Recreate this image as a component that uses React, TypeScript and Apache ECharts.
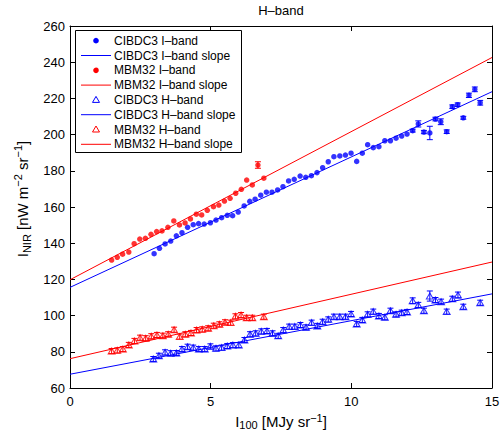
import React, { useEffect, useRef } from "react";
import * as echarts from "echarts";

const FONT = "'Liberation Sans', Arial, Helvetica, sans-serif";
const BLUE = "#0000ff";
const RED = "#ff0000";

// CIBDC3 I-band
const cibI_x = [2.99,3.18,3.38,3.58,3.78,3.98,4.18,4.38,4.57,4.77,4.99,5.19,5.39,5.59,5.78,5.98,6.19,6.39,6.58,6.78,6.98,7.18,7.38,7.57,7.77,7.97,8.18,8.38,8.58,8.78,8.98,9.18,9.38,9.59,9.79,9.99,10.19,10.39,10.58,10.78,10.98,11.19,11.39,11.59,11.79,11.98,12.18,12.38,12.58,12.79,12.99,13.18,13.39,13.59,13.78,13.98,14.18,14.39,14.58];
const cibI_y = [134.2,137.2,139.6,141.2,144.1,145.8,148.8,150.2,150.8,150.6,151.3,152.8,154.1,155.4,155.2,157.2,160.6,163.1,164.3,166.5,168.2,168.2,169.4,171.2,174.4,175.3,177.1,176.4,177.3,179.0,181.7,185.0,187.8,188.2,188.7,189.7,185.2,189.7,194.4,192.8,193.3,196.6,196.6,198.0,199.2,200.3,202.2,205.9,201.4,200.9,208.6,207.1,201.6,215.4,216.5,209.3,221.7,225.0,217.6];
const cibI_err = [0,0,0,0,0,0,0,0,0,0,0,0,0,0,0,0,0,0,0,0,0,0,0,0,0,0,0,0,0,0,0,0,0,0,0,0,0,0,0,0,0,0,0,0,0,0,0.8,1.7,0.9,3.7,1.0,1.6,1.0,1.0,1.0,0.8,1.2,1.3,1.3];

// MBM32 I-band
const mbmI_x = [1.48,1.68,1.87,2.09,2.28,2.48,2.68,2.88,3.08,3.27,3.48,3.69,3.89,4.09,4.28,4.49,4.68,4.88,5.10,5.29,5.49,5.69,5.89,6.09,6.28,6.48,6.68,6.89];
const mbmI_y = [130.7,132.2,133.9,135.1,139.7,142.3,142.7,144.9,146.4,146.8,148.8,152.3,150.1,151.2,153.4,156.0,155.6,158.2,160.2,161.1,163.3,164.8,167.6,169.8,174.9,172.2,183.2,175.9];
const mbmI_err = [0,0,0,0,0,0,0,0,0,0,0,0,0,0,0,0,0,0,0,0,0,0,0,0,0,0,1.8,0];

// CIBDC3 H-band
const cibH_x = [2.96,3.16,3.38,3.58,3.78,3.98,4.18,4.38,4.58,4.79,4.99,5.19,5.39,5.59,5.79,6.00,6.20,6.40,6.60,6.80,7.00,7.20,7.40,7.58,7.79,7.99,8.19,8.39,8.59,8.79,8.98,9.18,9.38,9.59,9.79,9.99,10.19,10.39,10.58,10.78,10.98,11.19,11.39,11.59,11.79,11.98,12.18,12.38,12.58,12.79,12.99,13.19,13.39,13.59,13.79,13.98,14.58];
const cibH_y = [76.0,77.8,79.7,79.2,79.3,81.5,82.8,82.3,81.5,81.5,83.0,81.9,82.3,83.2,83.7,83.7,86.5,89.7,90.2,91.3,91.5,90.2,88.8,92.0,93.9,93.9,94.8,93.5,96.1,94.3,96.6,97.9,99.4,99.4,99.4,100.9,95.4,97.6,100.7,102.2,99.8,99.1,102.7,100.7,101.6,102.0,108.2,105.9,102.7,110.8,108.6,107.7,102.2,109.3,111.4,104.9,107.1];
const cibH_err = [1.4,1.4,1.4,1.4,1.4,1.4,1.4,1.4,1.4,1.4,1.4,1.4,1.4,1.4,1.4,1.4,1.4,1.4,1.4,1.4,1.4,1.4,1.4,1.4,1.4,1.4,1.4,1.4,1.4,1.4,1.4,1.4,1.4,1.4,1.4,1.4,1.4,1.4,1.4,1.4,1.4,1.4,1.4,1.4,1.4,1.4,1.6,1.4,1.4,2.8,1.4,1.4,1.4,1.4,1.6,1.4,1.4];

// MBM32 H-band
const mbmH_x = [1.48,1.68,1.88,2.09,2.29,2.49,2.69,2.89,3.09,3.30,3.49,3.70,3.90,4.10,4.30,4.50,4.70,4.91,5.11,5.31,5.51,5.71,5.88,6.08,6.28,6.48,6.89];
const mbmH_y = [80.4,80.8,81.5,83.8,86.0,87.8,87.5,88.6,89.3,88.9,89.7,92.2,88.4,89.7,90.4,92.0,92.4,93.0,94.4,95.2,96.3,96.1,99.6,100.3,98.8,98.8,99.4];
const mbmH_err = [1.4,1.4,1.4,1.4,1.4,1.4,1.4,1.4,1.4,1.4,1.4,1.4,1.4,1.4,1.4,1.4,1.4,1.4,1.4,1.4,1.4,1.4,1.4,1.4,1.4,1.4,1.4];

// slope lines (values at x = 0 and x = 15)
const slopeX = [0, 15];
const cibI_slope = [115.6, 223.7];
const mbmI_slope = [119.8, 242.6];
const cibH_slope = [67.6, 112.0];
const mbmH_slope = [76.2, 129.6];

const legendLabels = [
  "CIBDC3 I–band",
  "CIBDC3 I–band slope",
  "MBM32 I–band",
  "MBM32 I–band slope",
  "CIBDC3 H–band",
  "CIBDC3 H–band slope",
  "MBM32 H–band",
  "MBM32 H–band slope",
];
const legendKinds = ["dot", "line", "dot", "line", "tri", "line", "tri", "line"];
const legendColors = [BLUE, BLUE, RED, RED, BLUE, BLUE, RED, RED];

const zip = (xs: number[], ys: number[]) => xs.map((x, i) => [x, ys[i]]);

function errSeries(xs: number[], ys: number[], errs: number[], color: string) {
  return {
    type: "custom",
    silent: true,
    xAxisIndex: 0,
    yAxisIndex: 0,
    data: xs.map((x, i) => [x, ys[i], errs[i]]),
    encode: { x: 0, y: 1 },
    z: 2,
    renderItem: (_p: any, api: any) => {
      const x = api.value(0);
      const y = api.value(1);
      const e = api.value(2);
      if (!e) return { type: "group", children: [] };
      const t = api.coord([x, y + e]);
      const b = api.coord([x, y - e]);
      const w = 3;
      const st = { stroke: color, lineWidth: 1 };
      return {
        type: "group",
        children: [
          { type: "line", shape: { x1: t[0], y1: t[1], x2: b[0], y2: b[1] }, style: st },
          { type: "line", shape: { x1: t[0] - w, y1: t[1], x2: t[0] + w, y2: t[1] }, style: st },
          { type: "line", shape: { x1: b[0] - w, y1: b[1], x2: b[0] + w, y2: b[1] }, style: st },
        ],
      };
    },
  };
}

function buildLegend() {
  const els: any[] = [];
  const bx = 75.5, by = 30.5, bw = 166, bh = 122;
  els.push({
    type: "rect",
    shape: { x: bx, y: by, width: bw, height: bh },
    style: { fill: "#fff", stroke: "#000", lineWidth: 1 },
    z: 100,
  });
  const y0 = 40.7, dy = 14.8, mx = 96;
  legendLabels.forEach((lab, i) => {
    const y = y0 + i * dy;
    const c = legendColors[i];
    const k = legendKinds[i];
    if (k === "dot") {
      els.push({ type: "circle", shape: { cx: mx, cy: y, r: 2.8 }, style: { fill: c }, z: 101 });
    } else if (k === "tri") {
      els.push({
        type: "polygon",
        shape: { points: [[mx, y - 3.5], [mx - 3.5, y + 2.5], [mx + 3.5, y + 2.5]] },
        style: { fill: "none", stroke: c, lineWidth: 1 },
        z: 101,
      });
    } else {
      els.push({
        type: "line",
        shape: { x1: 81, y1: y, x2: 111, y2: y },
        style: { stroke: c, lineWidth: 1 },
        z: 101,
      });
    }
    els.push({
      type: "text",
      x: 114,
      y: y,
      style: {
        text: lab,
        fontSize: 12,
        fontFamily: FONT,
        fill: "#000",
        verticalAlign: "middle",
        align: "left",
      },
      z: 101,
    });
  });
  return els;
}

export default function App() {
  const ref = useRef<HTMLDivElement>(null);
  useEffect(() => {
    if (!ref.current) return;
    const chart = echarts.init(ref.current, null, { renderer: "svg" });
    const axisCommon = {
      axisLine: { show: true, onZero: false, lineStyle: { color: "#000", width: 1 } },
      axisTick: { show: true, inside: true, length: 5, lineStyle: { color: "#000" } },
      splitLine: { show: false },
    };
    const labelStyle = { color: "#000", fontSize: 13, fontFamily: FONT };
    const richX = {
      i: { fontSize: 15, fontFamily: FONT, color: "#000", lineHeight: 18 },
      sub: { fontSize: 11, fontFamily: FONT, color: "#000", lineHeight: 11, verticalAlign: "bottom" },
      sup: { fontSize: 11, fontFamily: FONT, color: "#000", lineHeight: 9, verticalAlign: "top" },
    };
    const richY = {
      i: { fontSize: 15, fontFamily: FONT, color: "#000", lineHeight: 20 },
      sub: { fontSize: 11, fontFamily: FONT, color: "#000", lineHeight: 11, verticalAlign: "bottom" },
      sup: { fontSize: 11, fontFamily: FONT, color: "#000", lineHeight: 11, verticalAlign: "top" },
    };
    const option: any = {
      animation: false,
      backgroundColor: "#fff",
      title: {
        text: "H–band",
        left: 281,
        top: 4,
        padding: 0,
        textAlign: "center",
        textStyle: { fontSize: 13, fontWeight: "normal", color: "#000", fontFamily: FONT },
      },
      grid: { left: 70, right: 10, top: 26, bottom: 42, containLabel: false, outerBoundsMode: "none" },
      xAxis: [
        {
          type: "value",
          min: 0,
          max: 15,
          interval: 5,
          position: "bottom",
          ...axisCommon,
          axisLabel: { ...labelStyle, margin: 7 },
          name: "{i|I}{sub|100}{i| [MJy sr}{sup|−1}{i|]}",
          nameLocation: "middle",
          nameGap: 15,
          nameTextStyle: { rich: richX },
        },
        {
          type: "value",
          min: 0,
          max: 15,
          interval: 5,
          position: "top",
          ...axisCommon,
          axisLabel: { show: false },
        },
      ],
      yAxis: [
        {
          type: "value",
          min: 60,
          max: 260,
          interval: 20,
          position: "left",
          ...axisCommon,
          axisLabel: { ...labelStyle, margin: 5 },
          name: "{i|I}{sub|NIR}{i| [nW m}{sup|−2}{i| sr}{sup|−1}{i|]}",
          nameLocation: "middle",
          nameRotate: 90,
          nameGap: 34,
          nameTextStyle: { rich: richY, padding: [0, 0, 0, 16] },
        },
        {
          type: "value",
          min: 60,
          max: 260,
          interval: 20,
          position: "right",
          ...axisCommon,
          axisLabel: { show: false },
        },
      ],
      series: [
        errSeries(cibI_x, cibI_y, cibI_err, BLUE),
        errSeries(mbmI_x, mbmI_y, mbmI_err, RED),
        errSeries(cibH_x, cibH_y, cibH_err, BLUE),
        errSeries(mbmH_x, mbmH_y, mbmH_err, RED),
        {
          name: "CIBDC3 I–band",
          type: "scatter",
          data: zip(cibI_x, cibI_y),
          symbol: "circle",
          symbolSize: 5.5,
          itemStyle: { color: BLUE },
          z: 3,
        },
        {
          name: "CIBDC3 I–band slope",
          type: "line",
          data: zip(slopeX, cibI_slope),
          symbol: "none",
          lineStyle: { color: BLUE, width: 1 },
          itemStyle: { color: BLUE },
          z: 4,
        },
        {
          name: "MBM32 I–band",
          type: "scatter",
          data: zip(mbmI_x, mbmI_y),
          symbol: "circle",
          symbolSize: 5.5,
          itemStyle: { color: RED },
          z: 3,
        },
        {
          name: "MBM32 I–band slope",
          type: "line",
          data: zip(slopeX, mbmI_slope),
          symbol: "none",
          lineStyle: { color: RED, width: 1 },
          itemStyle: { color: RED },
          z: 4,
        },
        {
          name: "CIBDC3 H–band",
          type: "scatter",
          data: zip(cibH_x, cibH_y),
          symbol: "triangle",
          symbolSize: [7, 6],
          itemStyle: { color: "rgba(0,0,0,0)", borderColor: BLUE, borderWidth: 1 },
          z: 3,
        },
        {
          name: "CIBDC3 H–band slope",
          type: "line",
          data: zip(slopeX, cibH_slope),
          symbol: "none",
          lineStyle: { color: BLUE, width: 1 },
          itemStyle: { color: BLUE },
          z: 4,
        },
        {
          name: "MBM32 H–band",
          type: "scatter",
          data: zip(mbmH_x, mbmH_y),
          symbol: "triangle",
          symbolSize: [7, 6],
          itemStyle: { color: "rgba(0,0,0,0)", borderColor: RED, borderWidth: 1 },
          z: 3,
        },
        {
          name: "MBM32 H–band slope",
          type: "line",
          data: zip(slopeX, mbmH_slope),
          symbol: "none",
          lineStyle: { color: RED, width: 1 },
          itemStyle: { color: RED },
          z: 4,
        },
      ],
      graphic: buildLegend(),
    };
    chart.setOption(option);
    return () => chart.dispose();
  }, []);
  return (
    <div
      ref={ref}
      style={{ position: "absolute", left: 0, top: 0, width: 502, height: 430, background: "#fff" }}
    />
  );
}
